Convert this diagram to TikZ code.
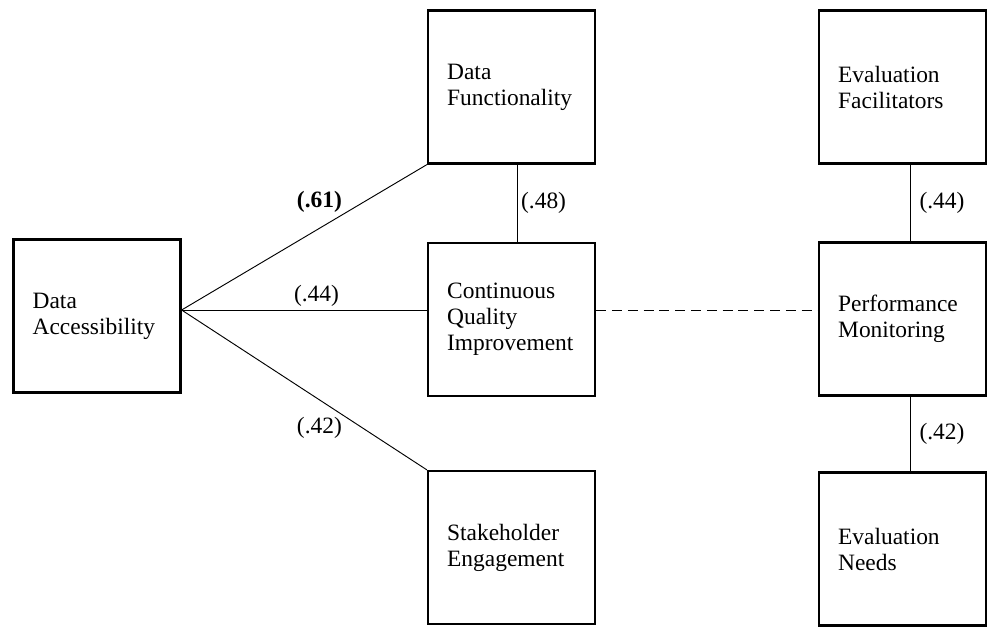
\documentclass[tikz,border=0pt]{standalone}
\usepackage{fontspec}
\setmainfont{Liberation Serif}
\usepackage{tikz}
\usetikzlibrary{positioning, calc}

\begin{document}
\begin{tikzpicture}[
  box/.style={draw, line width=2.2pt, minimum width=5cm, minimum height=4.58cm, inner xsep=0.57cm, text width=3.86cm, align=left, font=\fontsize{20}{22.2}\selectfont},
  link/.style={line width=0.8pt},
  dlink/.style={line width=0.8pt, dash pattern=on 8.5pt off 5pt},
  lbl/.style={font=\fontsize{20}{22.2}\selectfont, inner sep=1pt}
]
\useasboundingbox (0,0) rectangle (29.61,-19.05);

% ── Left column ──
\node[box] (acc) at (2.91, -9.48) {Data\\Accessibility};
\coordinate (hub) at ($(acc.east)+(0,0.18)$);

% ── Middle column ──
\node[box] (func) at (15.345, -2.61) {Data\\Functionality};
\node[box] (cqi) at (15.345, -9.585) {Continuous\\Quality\\Improvement};
\node[box] (stake) at (15.345, -16.425) {Stakeholder\\Engagement};

% ── Right column ──
\node[box] (evfac) at (27.075, -2.61) {Evaluation\\Facilitators};
\node[box] (perf) at (27.075, -9.57) {Performance\\Monitoring};
\node[box] (evneed) at (27.075, -16.47) {Evaluation\\Needs};

% ═══ LINKS ═══
% Data Accessibility to middle column
\draw[link] (hub) -- node[lbl, pos=0.66, anchor=south east] {\textbf{(.61)}} (func.south west);
\draw[link] (hub) -- node[lbl, pos=0.55, above=2pt] {(.44)} (cqi.west |- hub);
\draw[link] (hub) -- node[lbl, pos=0.66, anchor=north east] {(.42)} (stake.north west);

% Data Functionality -- CQI
\draw[link] ([xshift=0.17cm]func.south) -- node[lbl, right=2pt] {(.48)} ([xshift=0.17cm]cqi.north);

% CQI -- Performance Monitoring
\draw[dlink] (cqi.east |- hub) -- (perf.west |- hub);

% Right column
\draw[link] ([xshift=0.25cm]evfac.south) -- node[lbl, right=6pt] {(.44)} ([xshift=0.25cm]perf.north);
\draw[link] ([xshift=0.25cm]perf.south) -- node[lbl, right=6pt] {(.42)} ([xshift=0.25cm]evneed.north);

\end{tikzpicture}
\end{document}
